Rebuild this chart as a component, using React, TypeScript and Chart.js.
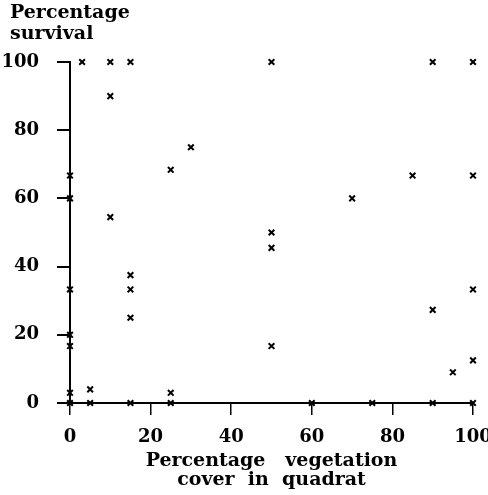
import React, { useEffect, useRef } from "react";
import { Chart, registerables } from "chart.js";

Chart.register(...registerables);

// Percentage vegetation cover in quadrat (x) and percentage survival (y)
const coverPct = [
  0, 0, 0, 0, 0, 0, 0,
  3, 5, 5,
  10, 10, 10,
  15, 15, 15, 15, 15,
  25, 25, 25,
  30,
  50, 50, 50, 50,
  60, 70, 75, 85,
  90, 90, 90,
  95,
  100, 100, 100, 100, 100,
];
const survivalPct = [
  0, 3, 16.7, 20, 33.3, 60, 66.7,
  100, 4, 0,
  100, 90, 54.5,
  100, 37.5, 33.3, 25, 0,
  68.4, 3, 0,
  75,
  100, 50, 45.5, 16.7,
  0, 60, 0, 66.7,
  100, 27.3, 0,
  9,
  100, 66.7, 33.3, 12.5, 0,
];

const xTickValues = [0, 20, 40, 60, 80, 100];
const yTickValues = [0, 20, 40, 60, 80, 100];
const yTitleLines = ["Percentage", "survival"];
const xTitleLines = ["Percentage   vegetation", "cover  in  quadrat"];

const FAMILY = "'DejaVu Serif', 'Liberation Serif', serif";

const titleOffset = {
  id: "titleOffset",
  afterLayout(chart: any) {
    if (chart.titleBlock) {
      chart.titleBlock.left = 10;
    }
  },
};

export default function App() {
  const ref = useRef<HTMLCanvasElement>(null);

  useEffect(() => {
    if (!ref.current) return;
    const tickFont = { family: FAMILY, weight: "bold" as const, size: 18, lineHeight: 1.2 };
    const chart = new Chart(ref.current, {
      type: "scatter",
      data: {
        datasets: [
          {
            data: coverPct.map((x, i) => ({ x, y: survivalPct[i] })),
            pointStyle: "crossRot",
            pointRadius: 4,
            pointHoverRadius: 4,
            borderColor: "#000",
            backgroundColor: "#000",
            borderWidth: 2,
            clip: false as any,
          },
        ],
      },
      plugins: [titleOffset],
      options: {
        animation: false,
        responsive: false,
        maintainAspectRatio: false,
        events: [],
        layout: { padding: { left: 0, right: 15, top: 0, bottom: 0 } },
        plugins: {
          legend: { display: false },
          tooltip: { enabled: false },
          title: {
            display: true,
            text: yTitleLines,
            align: "start",
            color: "#000",
            font: { family: FAMILY, weight: "bold", size: 19, lineHeight: 1.1 },
            padding: { top: 3, bottom: 17.2 },
          },
        },
        scales: {
          x: {
            type: "linear",
            min: 0,
            max: 100,
            afterBuildTicks: (s: any) => {
              s.ticks = xTickValues.map((v) => ({ value: v }));
            },
            afterFit: (s: any) => {
              s.height = 92;
              s.paddingLeft = 0;
              s.paddingRight = 0;
            },
            grid: {
              drawOnChartArea: false,
              drawTicks: true,
              tickLength: 12,
              color: "#000",
              lineWidth: 1.5,
            },
            border: { display: true, color: "#000", width: 2 },
            ticks: {
              color: "#000",
              font: tickFont,
              padding: 12,
              maxRotation: 0,
              autoSkip: false,
            },
            title: {
              display: true,
              text: xTitleLines,
              color: "#000",
              font: { family: FAMILY, weight: "bold", size: 19, lineHeight: 1.0 },
              padding: { top: 0, bottom: 5 },
            },
          },
          y: {
            type: "linear",
            min: 0,
            max: 100,
            afterBuildTicks: (s: any) => {
              s.ticks = yTickValues.map((v) => ({ value: v }));
            },
            afterFit: (s: any) => {
              s.width = 70;
              s.paddingTop = 0;
              s.paddingBottom = 0;
            },
            grid: {
              drawOnChartArea: false,
              drawTicks: true,
              tickLength: 13,
              color: "#000",
              lineWidth: 2,
            },
            border: { display: true, color: "#000", width: 2 },
            ticks: {
              color: "#000",
              font: tickFont,
              padding: 18,
              autoSkip: false,
            },
          },
        },
      },
    } as any);
    return () => chart.destroy();
  }, []);

  return (
    <div style={{ position: "absolute", left: 0, top: 0, width: 488, height: 495, background: "#fff" }}>
      <canvas ref={ref} width={488} height={495} />
    </div>
  );
}
